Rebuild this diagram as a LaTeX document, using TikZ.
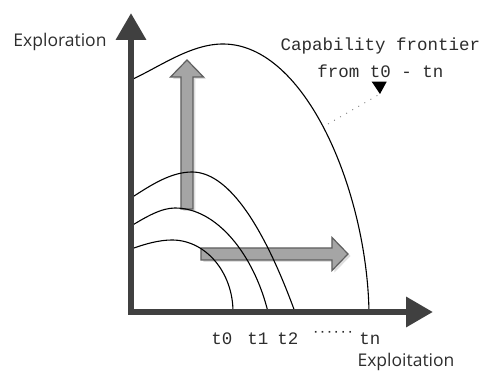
\documentclass[tikz,border=0pt]{standalone}
\usepackage{fontspec}
\setmainfont{Open Sans}
\newfontfamily\typefont{Liberation Mono}
\usetikzlibrary{arrows.meta,positioning}
\definecolor{axisgray}{RGB}{64,64,64}
\definecolor{labelgray}{RGB}{45,45,45}
\definecolor{fatfill}{RGB}{165,165,165}
\definecolor{fatline}{RGB}{95,95,95}
\definecolor{fatshade}{RGB}{222,222,222}

\begin{document}
\begin{tikzpicture}[x=1pt,y=1pt,
    axis/.style={axisgray,line width=6.5pt,line cap=rect,-{Triangle[length=27pt,width=29pt]}},
    frontier/.style={black,line width=1.1pt},
    fat/.style={fill=fatfill,draw=fatline,line width=1.2pt,line join=miter,
      preaction={fill=fatshade,transform canvas={shift={(2.5pt,-2pt)}}}},
    axlabel/.style={labelgray,inner sep=0pt,font=\fontsize{17.5}{20}\selectfont},
    tick/.style={labelgray,inner sep=0pt,font=\typefont\fontsize{17.5}{26.5}\selectfont}]
  \useasboundingbox (-131,-62) rectangle (352,312);
  \coordinate (O) at (0,0);
  \coordinate (ytip) at (0,299);
  \coordinate (xtip) at (302,0);
  % shift of the frontier: up and to the right
  \draw[fat] (50,103) -- (50,235) -- (39.5,235) -- (56,252) -- (72.5,235)
    -- (62,235) -- (62,103) -- cycle;
  \draw[fat] (70,52) -- (201,52) -- (201,41.5) -- (217,58) -- (201,74.5)
    -- (201,64) -- (70,64) -- cycle;
  % frontiers t0, t1, t2 and tn
  \draw[frontier] (0,63) .. controls (14,68) and (28,72) .. (41,72)
    .. controls (74.7,72) and (102,39.7) .. (102,0);
  \draw[frontier] (0,86) .. controls (15,95) and (30,104) .. (44,104)
    .. controls (86,104) and (123,57) .. (137,0);
  \draw[frontier] (0,114) .. controls (20,127) and (40,140) .. (61,140)
    .. controls (95,140) and (130,93) .. (164,0);
  \draw[frontier] (0,232) .. controls (30,246) and (60,268) .. (92,268)
    .. controls (175,268) and (236,120) .. (238,0);
  % axes
  \draw[axis] (O) -- (ytip);
  \draw[axis] (O) -- (xtip);
  \node[axlabel] (ylab) at (-71,270) {Exploration};
  \node[axlabel] (xlab) at (275,-50) {Exploitation};
  \foreach \t/\x in {t0/91,t1/127,t2/157,tn/239}
    \node[tick,anchor=base] (\t) at (\x,-33) {\t};
  \node[tick,font=\typefont\bfseries\fontsize{11.5}{12}\selectfont] (dots) at (202,-21) {······};
  % caption with its pointer
  \node[tick,align=center] (cap) at (249.5,254) {Capability frontier\\from t0 - tn};
  \coordinate (pin) at (249,218);
  \coordinate (onfront) at (197,188);
  \draw[gray,line width=0.9pt,dash pattern=on 1pt off 6pt] (onfront) -- (pin);
  \fill[black] (pin) -- ++(-8.3,12.3) -- ++(15,0) -- cycle;
\end{tikzpicture}
\end{document}
